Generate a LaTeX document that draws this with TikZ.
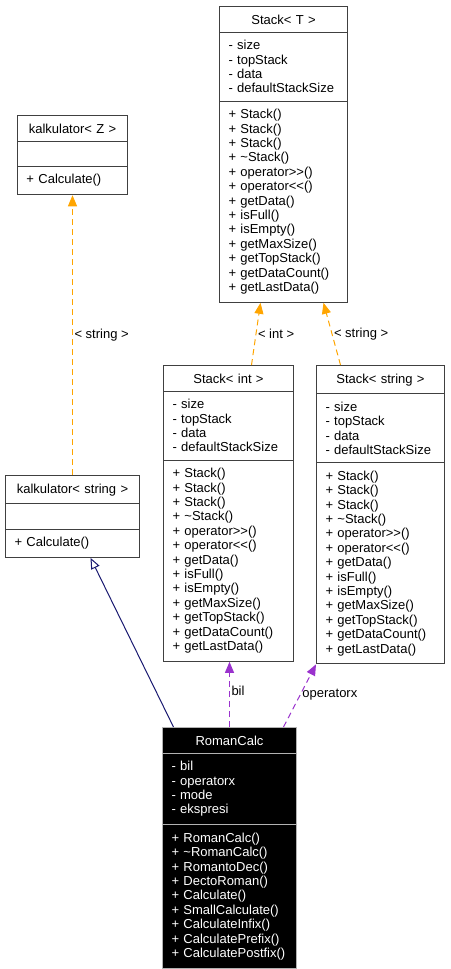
\documentclass[tikz,border=0pt]{standalone}
\usepackage{fontspec}
\setmainfont{Liberation Sans}[Ligatures=TeXOff]
\usetikzlibrary{shapes.multipart,arrows.meta}
\definecolor{tmplorange}{HTML}{FFA500}
\definecolor{usepurple}{HTML}{9A32CD}
\definecolor{inhnavy}{HTML}{191970}
\begin{document}
\begin{tikzpicture}[x=1pt, y=-1pt, font=\fontsize{13}{14.4}\selectfont,
				classbox/.style={rectangle split, rectangle split parts=3, draw=black!75, line width=1pt,
					anchor=north west, align=left, inner xsep=9pt, inner ysep=7.6pt},
				mainbox/.style={classbox, fill=black, draw=gray!60, text=white},
				tmpl/.style={draw=tmplorange, line width=1pt, dash pattern=on 6pt off 4pt, -{Triangle[length=11pt,width=9pt]}},
				uses/.style={draw=usepurple, line width=1pt, dash pattern=on 6pt off 4pt, -{Triangle[length=11pt,width=9pt]}},
				inherit/.style={draw=inhnavy, line width=1pt, -{Triangle[open,length=11pt,width=9pt,fill=white]}},
				lbl/.style={anchor=west, inner sep=1.5pt}]
				\useasboundingbox (0,0) rectangle (450,969);
				\node[classbox, text width=110pt] (stackT) at (219,6) {\hfill Stack< T >\hfill\null
					\nodepart{second} - size\\ - topStack\\ - data\\ - defaultStackSize
					\nodepart{third} + Stack()\\ + Stack()\\ + Stack()\\ + \textasciitilde Stack()\\ + operator>>()\\ + operator<<()\\ + getData()\\ + isFull()\\ + isEmpty()\\ + getMaxSize()\\ + getTopStack()\\ + getDataCount()\\ + getLastData()};
				\node[classbox, text width=92pt] (kalkZ) at (17,115) {\hfill kalkulator< Z >\hfill\null
					\nodepart{second} \rule{0pt}{9pt}
					\nodepart{third} + Calculate()};
				\node[classbox, text width=116pt] (kalkstr) at (5,475) {\hfill kalkulator< string >\hfill\null
					\nodepart{second} \rule{0pt}{9pt}
					\nodepart{third} + Calculate()};
				\node[classbox, text width=112pt] (stackint) at (163,365) {\hfill Stack< int >\hfill\null
					\nodepart{second} - size\\ - topStack\\ - data\\ - defaultStackSize
					\nodepart{third} + Stack()\\ + Stack()\\ + Stack()\\ + \textasciitilde Stack()\\ + operator>>()\\ + operator<<()\\ + getData()\\ + isFull()\\ + isEmpty()\\ + getMaxSize()\\ + getTopStack()\\ + getDataCount()\\ + getLastData()};
				\node[classbox, text width=110pt] (stackstr) at (316,365) {\hfill Stack< string >\hfill\null
					\nodepart{second} - size\\ - topStack\\ - data\\ - defaultStackSize
					\nodepart{third} + Stack()\\ + Stack()\\ + Stack()\\ + \textasciitilde Stack()\\ + operator>>()\\ + operator<<()\\ + getData()\\ + isFull()\\ + isEmpty()\\ + getMaxSize()\\ + getTopStack()\\ + getDataCount()\\ + getLastData()};
				\node[mainbox, text width=116pt] (roman) at (162,727) {\hfill RomanCalc\hfill\null
					\nodepart{second} - bil\\ - operatorx\\ - mode\\ - ekspresi
					\nodepart{third} + RomanCalc()\\ + \textasciitilde RomanCalc()\\ + RomantoDec()\\ + DectoRoman()\\ + Calculate()\\ + SmallCalculate()\\ + CalculateInfix()\\ + CalculatePrefix()\\ + CalculatePostfix()};
				\draw[tmpl] (kalkstr.north) -- node[lbl] {< string >} (kalkZ.south);
				\draw[tmpl] ([xshift=23pt]stackint.north) -- node[lbl] {< int >} ([xshift=-23pt]stackT.south);
				\draw[tmpl] ([xshift=-40pt]stackstr.north) -- node[lbl] {< string >} ([xshift=40pt]stackT.south);
				\draw[inherit] ([xshift=-56pt]roman.north) -- ([xshift=18pt]kalkstr.south);
				\draw[uses] (roman.north) -- node[lbl, pos=0.55] {bil} (roman.north |- stackint.south);
				\draw[uses] ([xshift=54pt]roman.north) -- node[lbl, pos=0.52] {operatorx} (stackstr.south west);
			\end{tikzpicture}
\end{document}
